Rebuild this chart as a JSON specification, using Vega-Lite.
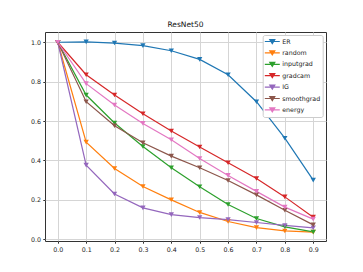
{
  "$schema": "https://vega.github.io/schema/vega-lite/v6.json",
  "width": 281,
  "height": 209,
  "autosize": {"type": "none"},
  "padding": {"left": 45, "top": 32, "right": 37, "bottom": 31},
  "background": "white",
  "title": {"text": "ResNet50", "fontSize": 7.5, "font": "DejaVu Sans", "fontWeight": "normal", "color": "#111", "offset": 4},
  "config": {
    "view": {"stroke": "#333", "strokeWidth": 1},
    "title": {"fontWeight": "normal"},
    "axis": {"labelFont": "DejaVu Sans", "labelFontSize": 6.3, "labelColor": "#222", "domain": false, "tickColor": "#333", "tickSize": 2.2, "gridColor": "#d5d5d5", "gridWidth": 1, "title": null}
  },
  "data": {"values": [
    {"x":0.0,"m":"ER","y":1.0},{"x":0.1,"m":"ER","y":1.002},{"x":0.2,"m":"ER","y":0.996},{"x":0.3,"m":"ER","y":0.983},{"x":0.4,"m":"ER","y":0.957},{"x":0.5,"m":"ER","y":0.913},{"x":0.6,"m":"ER","y":0.835},{"x":0.7,"m":"ER","y":0.698},{"x":0.8,"m":"ER","y":0.513},{"x":0.9,"m":"ER","y":0.30},
    {"x":0.0,"m":"random","y":1.0},{"x":0.1,"m":"random","y":0.493},{"x":0.2,"m":"random","y":0.359},{"x":0.3,"m":"random","y":0.268},{"x":0.4,"m":"random","y":0.200},{"x":0.5,"m":"random","y":0.136},{"x":0.6,"m":"random","y":0.09},{"x":0.7,"m":"random","y":0.059},{"x":0.8,"m":"random","y":0.042},{"x":0.9,"m":"random","y":0.036},
    {"x":0.0,"m":"inputgrad","y":1.0},{"x":0.1,"m":"inputgrad","y":0.732},{"x":0.2,"m":"inputgrad","y":0.590},{"x":0.3,"m":"inputgrad","y":0.471},{"x":0.4,"m":"inputgrad","y":0.363},{"x":0.5,"m":"inputgrad","y":0.266},{"x":0.6,"m":"inputgrad","y":0.176},{"x":0.7,"m":"inputgrad","y":0.105},{"x":0.8,"m":"inputgrad","y":0.063},{"x":0.9,"m":"inputgrad","y":0.037},
    {"x":0.0,"m":"gradcam","y":1.0},{"x":0.1,"m":"gradcam","y":0.835},{"x":0.2,"m":"gradcam","y":0.732},{"x":0.3,"m":"gradcam","y":0.637},{"x":0.4,"m":"gradcam","y":0.549},{"x":0.5,"m":"gradcam","y":0.468},{"x":0.6,"m":"gradcam","y":0.388},{"x":0.7,"m":"gradcam","y":0.308},{"x":0.8,"m":"gradcam","y":0.215},{"x":0.9,"m":"gradcam","y":0.112},
    {"x":0.0,"m":"IG","y":1.0},{"x":0.1,"m":"IG","y":0.376},{"x":0.2,"m":"IG","y":0.230},{"x":0.3,"m":"IG","y":0.159},{"x":0.4,"m":"IG","y":0.125},{"x":0.5,"m":"IG","y":0.110},{"x":0.6,"m":"IG","y":0.100},{"x":0.7,"m":"IG","y":0.085},{"x":0.8,"m":"IG","y":0.070},{"x":0.9,"m":"IG","y":0.058},
    {"x":0.0,"m":"smoothgrad","y":1.0},{"x":0.1,"m":"smoothgrad","y":0.698},{"x":0.2,"m":"smoothgrad","y":0.576},{"x":0.3,"m":"smoothgrad","y":0.490},{"x":0.4,"m":"smoothgrad","y":0.422},{"x":0.5,"m":"smoothgrad","y":0.363},{"x":0.6,"m":"smoothgrad","y":0.298},{"x":0.7,"m":"smoothgrad","y":0.225},{"x":0.8,"m":"smoothgrad","y":0.147},{"x":0.9,"m":"smoothgrad","y":0.073},
    {"x":0.0,"m":"energy","y":1.0},{"x":0.1,"m":"energy","y":0.790},{"x":0.2,"m":"energy","y":0.681},{"x":0.3,"m":"energy","y":0.588},{"x":0.4,"m":"energy","y":0.505},{"x":0.5,"m":"energy","y":0.410},{"x":0.6,"m":"energy","y":0.324},{"x":0.7,"m":"energy","y":0.243},{"x":0.8,"m":"energy","y":0.163},{"x":0.9,"m":"energy","y":0.102}
  ]},
  "encoding": {
    "x": {"field": "x", "type": "quantitative", "scale": {"domain": [-0.045, 0.945], "nice": false, "zero": false},
          "axis": {"values": [0,0.1,0.2,0.3,0.4,0.5,0.6,0.7,0.8,0.9], "format": ".1f", "labelPadding": 3}},
    "y": {"field": "y", "type": "quantitative", "scale": {"domain": [-0.009, 1.052], "nice": false, "zero": false},
          "axis": {"values": [0,0.2,0.4,0.6,0.8,1.0], "format": ".1f", "labelPadding": 2.4}},
    "color": {"field": "m", "type": "nominal",
      "scale": {"domain": ["ER","random","inputgrad","gradcam","IG","smoothgrad","energy"],
                "range": ["#1f77b4","#ff7f0e","#2ca02c","#d62728","#9467bd","#8c564b","#e377c2"]},
      "legend": {"title": null, "orient": "none", "legendX": 217.7, "legendY": 3,
        "symbolType": "M-2.14,0H2.14M-0.71,-0.57H0.71L0,0.57Z", "symbolSize": 49, "symbolStrokeWidth": 1.2,
        "symbolOffset": 3.1,
        "labelFont": "DejaVu Sans", "labelFontSize": 6.3, "labelColor": "#222", "rowPadding": 2.4, "labelOffset": 5.4,
        "padding": 2, "fillColor": "white", "strokeColor": "#ccc", "cornerRadius": 2,
        "encode": {"symbols": {"update": {"fill": {"scale": "color", "field": "value"}, "stroke": {"scale": "color", "field": "value"}, "opacity": {"value": 1}, "strokeOpacity": {"value": 1}, "strokeWidth": {"value": 1.2}}}}}}
  },
  "layer": [
    {"mark": {"type": "line", "strokeWidth": 1.2}},
    {"mark": {"type": "point", "shape": "triangle-down", "filled": true, "size": 28, "opacity": 1}}
  ]
}
